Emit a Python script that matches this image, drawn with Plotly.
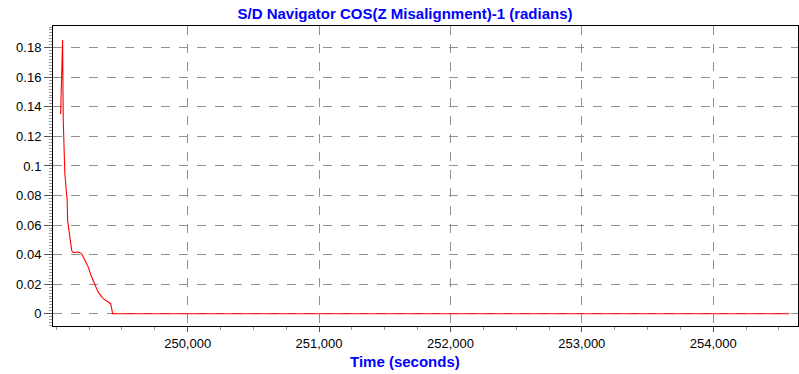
import plotly.graph_objects as go

time_s = [249033, 249048, 249053, 249058, 249065, 249078, 249083, 249086, 249098, 249109,
          249117, 249129, 249167, 249193, 249218, 249243, 249269, 249294, 249319, 249357,
          249395, 249414, 249429, 250500, 252000, 253500, 254580]
cos_misalign = [0.1351, 0.1853, 0.131, 0.1197, 0.0949, 0.0814, 0.0768, 0.0633, 0.0542, 0.0475,
                0.0429, 0.0413, 0.0418, 0.0407, 0.0361, 0.0316, 0.0248, 0.0192, 0.0146, 0.0102,
                0.0079, 0.0068, 0.0, 0.0, 0.0, 0.0, 0.0]

x_ticks = [250000, 251000, 252000, 253000, 254000]
x_ticklabels = ["250,000", "251,000", "252,000", "253,000", "254,000"]
y_ticks = [0, 0.02, 0.04, 0.06, 0.08, 0.1, 0.12, 0.14, 0.16, 0.18]
y_ticklabels = ["0", "0.02", "0.04", "0.06", "0.08", "0.1", "0.12", "0.14", "0.16", "0.18"]

W, H = 799, 374
L, R, T, B = 53, 1, 26, 48
pw, ph = W - L - R, H - T - B

fig = go.Figure()
fig.add_trace(go.Scatter(x=time_s, y=cos_misalign, mode="lines",
                         line=dict(color="#ff0000", width=1.1), showlegend=False))

font = "Liberation Sans, Arial, sans-serif"
fig.update_layout(
    width=W, height=H,
    margin=dict(l=L, r=R, t=T, b=B, autoexpand=False),
    paper_bgcolor="white", plot_bgcolor="white",
    font=dict(family=font, size=13, color="black"),
    title=dict(text="<b>S/D Navigator COS(Z Misalignment)-1 (radians)</b>",
               x=(405 - L) / pw, xref="paper", xanchor="center",
               y=1 - 13.5 / H, yref="container", yanchor="middle",
               font=dict(family=font, size=15, color="#0000ff")),
    annotations=[dict(text="<b>Time (seconds)</b>", xref="paper", yref="paper",
                      x=(405 - L) / pw, y=-(361 - (H - B)) / ph, xanchor="center", yanchor="middle",
                      showarrow=False, font=dict(family=font, size=15, color="#0000ff"))],
)
fig.update_xaxes(
    range=[248975, 254645], tickmode="array", tickvals=x_ticks, ticktext=x_ticklabels,
    showgrid=True, gridcolor="#909090", griddash="dash", gridwidth=1,
    showline=True, linecolor="black", linewidth=1, mirror=True, automargin=False,
    ticks="outside", ticklen=5, tickcolor="#555555", zeroline=False,
    minor=dict(dtick=250, tick0=0, ticks="outside", ticklen=3, tickcolor="#999999", showgrid=False),
)
fig.update_yaxes(
    range=[-0.0083, 0.1947], tickmode="array", tickvals=y_ticks, ticktext=y_ticklabels,
    showgrid=True, gridcolor="#909090", griddash="dash", gridwidth=1,
    showline=True, linecolor="black", linewidth=1, mirror=True, automargin=False,
    ticks="outside", ticklen=8, tickcolor="#555555", zeroline=False,
    minor=dict(dtick=0.002, tick0=0, ticks="outside", ticklen=3, tickcolor="#999999", showgrid=False),
)

fig.write_html("out.html", config={"displayModeBar": False},
               post_script="document.body.style.margin='0px';document.body.style.overflow='hidden';")
